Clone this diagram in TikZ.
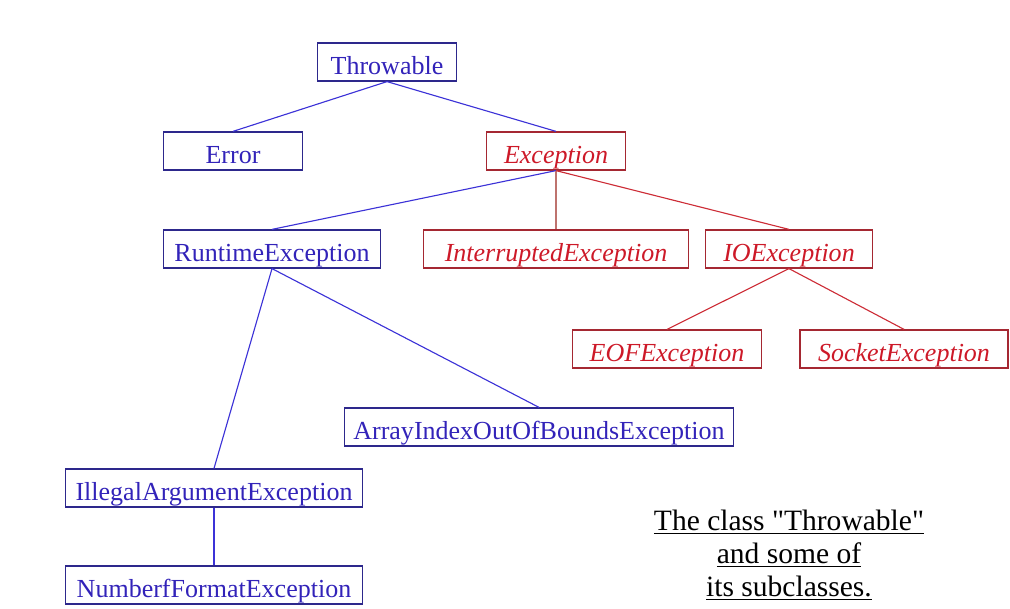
\documentclass[tikz,border=0pt]{standalone}
\usepackage{fontspec}
\setmainfont{Liberation Serif}
\definecolor{boxblue}{RGB}{45,40,140}
\definecolor{txtblue}{RGB}{50,35,185}
\definecolor{lnkblue}{RGB}{60,50,215}
\definecolor{boxred}{RGB}{165,40,50}
\definecolor{txtred}{RGB}{205,25,40}
\definecolor{lnkred}{RGB}{205,45,55}
\definecolor{lnkpale}{RGB}{190,115,110}
\tikzset{
  cls/.style={draw=boxblue,text=txtblue,line width=0.9pt,minimum height=27pt,inner sep=0pt,
    text height=17.5pt,text depth=0pt,font=\fontsize{18.5}{22}\selectfont},
  xcls/.style={cls,draw=boxred,text=txtred,font=\fontsize{18.5}{22}\selectfont\itshape},
  blink/.style={lnkblue,line width=0.8pt},
  rlink/.style={lnkred,line width=0.8pt}
}
\begin{document}
\begin{tikzpicture}[x=0.025cm,y=-0.025cm]
                \useasboundingbox (0,0) rectangle (1010,609);
                % Draw nodes
                \node[cls,minimum width=99pt] (T) at (387,62) {Throwable};
                \node[cls,minimum width=99pt] (E) at (233,151) {Error};
                \node[xcls,minimum width=99pt] (X) at (556,151) {Exception};
                \node[cls,minimum width=154pt] (R) at (272,249) {RuntimeException};
                \node[xcls,minimum width=188pt] (IE) at (556,249) {InterruptedException};
                \node[xcls,minimum width=119pt] (IO) at (789,249) {IOException};
                \node[xcls,minimum width=134pt] (EOF) at (667,349) {EOFException};
                \node[xcls,minimum width=148pt] (S) at (904,349) {SocketException};
                \node[cls,minimum width=277pt] (A) at (539,427) {ArrayIndexOutOfBoundsException};
                \node[cls,minimum width=211pt] (IA) at (214,488) {IllegalArgumentException};
                \node[cls,minimum width=211pt] (N) at (214,585) {NumberfFormatException};

                % Draw edges
                \foreach \j in {E,X} \draw[blink] (T.south) -- (\j.north);
                \draw[blink] (X.south) -- (R.north);
                \draw[lnkpale,line width=1.2pt] (X.south) -- (IE.north);
                \draw[rlink] (X.south) -- (IO.north);
                \foreach \j in {EOF,S} \draw[rlink] (IO.south) -- (\j.north);
                \foreach \j in {IA,A} \draw[blink] (R.south) -- (\j.north);
                \draw[blink] (IA.south) -- (N.north);

                % Caption
                \node[align=center,font=\fontsize{21}{23.5}\selectfont] (cap) at (789,555)
                  {\underline{The class \textquotedbl Throwable\textquotedbl}\\\underline{and some of}\\\underline{its subclasses.}};
            \end{tikzpicture}
\end{document}
